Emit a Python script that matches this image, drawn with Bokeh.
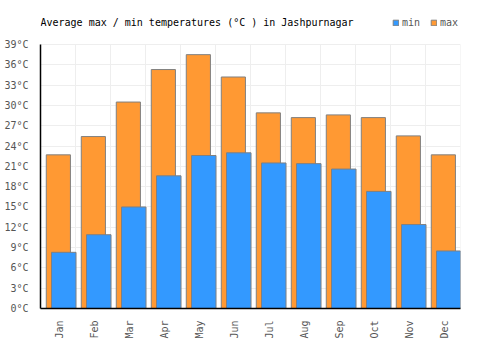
import math
from bokeh.plotting import figure
from bokeh.models import (FixedTicker, PrintfTickFormatter, Legend, LegendItem,
                          Range1d, ColumnDataSource, Label)
from bokeh.embed import file_html
from bokeh.resources import INLINE

months = ["Jan", "Feb", "Mar", "Apr", "May", "Jun", "Jul", "Aug", "Sep", "Oct", "Nov", "Dec"]
t_max = [22.7, 25.4, 30.5, 35.3, 37.5, 34.2, 28.9, 28.2, 28.6, 28.2, 25.5, 22.7]
t_min = [8.3, 10.9, 15.0, 19.6, 22.6, 23.0, 21.5, 21.4, 20.6, 17.3, 12.4, 8.5]
y_ticks = list(range(0, 40, 3))
title_text = "Average max / min temperatures (°C ) in Jashpurnagar"

idx = list(range(len(months)))
src = ColumnDataSource(dict(
    xmax=[i + 0.51 for i in idx],
    xmin=[i + 0.665 for i in idx],
    tmax=t_max,
    tmin=t_min,
))

FONT = "DejaVu Sans Mono"
Y_TOP = 39
# frame spans the whole height above the x axis; the 0..39 part is 264 px of 308
y_end = Y_TOP * 308 / 264

p = figure(width=500, height=350, output_backend="svg", toolbar_location=None,
           x_range=Range1d(0, 12), y_range=Range1d(0, y_end),
           min_border_left=40, min_border_right=40, min_border_top=0,
           min_border_bottom=42)

# vertical grid lines only within 0..39
grid_x = list(range(0, 13))
p.segment(x0=grid_x, x1=grid_x, y0=[0] * 13, y1=[Y_TOP] * 13,
          line_color="#eeeeee", line_width=1, level="underlay")

r_max = p.vbar(x="xmax", width=0.69, top="tmax", bottom=0, source=src,
               fill_color="#FF9933", line_color="#808080", line_width=1)
r_min = p.vbar(x="xmin", width=0.70, top="tmin", bottom=0, source=src,
               fill_color="#3399FF", line_color="#808080", line_width=1)

# axes
p.yaxis.ticker = FixedTicker(ticks=y_ticks)
p.yaxis.formatter = PrintfTickFormatter(format="%d°C")
p.yaxis.bounds = (0, Y_TOP)
p.xaxis.ticker = FixedTicker(ticks=[i + 0.55 for i in idx])
p.xaxis.major_label_overrides = {i + 0.55: m for i, m in enumerate(months)}
p.xaxis.major_label_orientation = math.pi / 2
for ax in (p.xaxis, p.yaxis):
    ax.major_label_text_font = FONT
    ax.major_label_text_font_size = "10px"
    ax.major_label_text_color = "#555555"
    ax.major_tick_line_color = None
    ax.minor_tick_line_color = None
    ax.axis_line_color = "#000000"
    ax.axis_line_width = 1.5
    ax.major_label_standoff = 6

p.outline_line_color = None
p.ygrid.ticker = FixedTicker(ticks=y_ticks)
p.ygrid.grid_line_color = "#eeeeee"
p.xgrid.grid_line_color = None

title = Label(x=0, y=286, x_units="screen", y_units="screen", text=title_text,
              text_font=FONT, text_font_size="10px", text_color="#000000",
              text_baseline="middle", text_align="left")
p.add_layout(title)

legend = Legend(items=[LegendItem(label="min", renderers=[r_min]),
                       LegendItem(label="max", renderers=[r_max])],
                location=(352, 280), orientation="horizontal",
                glyph_width=7, glyph_height=7, label_standoff=3, spacing=8,
                padding=0, margin=0, border_line_alpha=0, background_fill_alpha=0,
                label_text_font=FONT, label_text_font_size="10px",
                label_text_color="#555555", label_height=12)
p.add_layout(legend)

open("out.html", "w").write(file_html(p, INLINE))
